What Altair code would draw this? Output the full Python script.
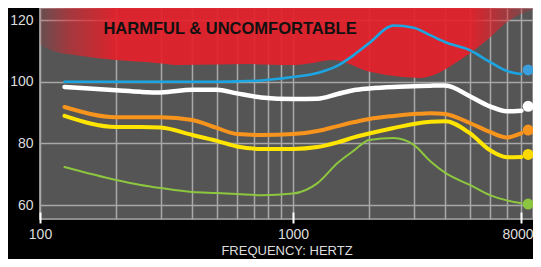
import altair as alt
import pandas as pd

# ---------------- data ----------------
FREQS = [125, 200, 250, 300, 400, 500, 600, 750, 1000, 1250, 1500, 1750,
         2000, 2500, 3000, 3500, 4000, 5000, 6000, 7000, 8000]

BLUE = [100, 100, 100, 100, 100, 100, 100.1, 100.4, 101.5, 102.8, 105.2, 108.8,
        112.5, 118.2, 117.5, 115.0, 112.8, 110.2, 106.4, 103.5, 102.5]
WHITE = [98.3, 97.2, 96.7, 96.5, 97.4, 97.4, 96.2, 94.9, 94.4, 94.5, 96.0, 97.3,
         97.8, 98.3, 98.5, 98.7, 98.8, 95.3, 92.0, 90.4, 90.6]
ORANGE = [91.8, 88.5, 88.5, 88.5, 87.6, 85.0, 83.0, 82.7, 83.0, 84.0, 85.6, 86.9,
          87.9, 88.9, 89.5, 89.8, 89.5, 86.6, 83.7, 81.9, 83.3]
YELLOW = [88.9, 85.3, 85.3, 85.1, 82.7, 80.8, 79.0, 78.2, 78.2, 78.8, 80.3, 82.0,
          83.2, 85.0, 86.3, 87.0, 87.2, 83.3, 77.8, 75.5, 75.6]
GREEN = [72.3, 68.1, 66.5, 65.5, 64.2, 63.9, 63.6, 63.2, 63.7, 67.1, 73.6, 77.8,
         81.1, 81.7, 79.5, 74.1, 70.4, 66.5, 63.2, 61.5, 60.6]

SERIES = ["blue", "white", "orange", "yellow", "green"]
LINE_COLORS = ["#1ba6e3", "#ffffff", "#f7941d", "#ffe500", "#8dc63f"]
DOT_COLORS = ["#3a9fdc", "#ffffff", "#f7941d", "#f9d900", "#8cc540"]
LINE_WIDTHS = [2.6, 4.5, 4, 4, 2]

DOT_FREQ = 8500
DOT_VALUES = [103.8, 92.0, 84.3, 76.4, 60.3]

HARM_FREQS = [100, 116, 139, 200, 287, 358, 675, 973, 1200, 1440, 2014, 2650,
              3177, 3811, 4570, 5849, 7211, 9550]
HARM_LOWER = [111.9, 109.6, 108.6, 107.0, 106.1, 105.4, 105.7, 105.4, 106.1, 107.0,
              103.2, 101.6, 101.2, 103.1, 107.0, 113.5, 120.0, 123.9]

X_GRID = [100, 200, 300, 400, 500, 600, 700, 800, 900, 1000, 2000, 3000, 4000,
          5000, 6000, 7000, 8000]
X_LABELS = [100, 1000, 8000]
Y_GRID = [60, 65, 70, 75, 80, 85, 90, 95, 100, 105, 110, 115, 120]

X_DOMAIN = [100, 8885]
Y_DOMAIN = [55.46, 123.9]

ANNOT_TEXT = "HARMFUL & UNCOMFORTABLE"
ANNOT_FREQ = 564
ANNOT_VALUE = 117.0

# ---------------- tables ----------------
values_by_series = [BLUE, WHITE, ORANGE, YELLOW, GREEN]
lines_df = pd.DataFrame([
    {"series": s, "freq": f, "value": v, "ord": i}
    for s, vals in zip(SERIES, values_by_series)
    for i, (f, v) in enumerate(zip(FREQS, vals))
])
dots_df = pd.DataFrame({"series": SERIES, "freq": [DOT_FREQ] * 5, "value": DOT_VALUES})
harm_df = pd.DataFrame({"freq": HARM_FREQS, "lower": HARM_LOWER,
                        "top": [Y_DOMAIN[1]] * len(HARM_FREQS)})
annot_df = pd.DataFrame({"freq": [ANNOT_FREQ], "value": [ANNOT_VALUE], "text": [ANNOT_TEXT]})

FONT = "Liberation Sans"
x_scale = alt.Scale(type="log", domain=X_DOMAIN, nice=False)
y_scale = alt.Scale(domain=Y_DOMAIN, nice=False, zero=False)

label_test = " || ".join(f"datum.value == {v}" for v in X_LABELS)
x_axis = alt.Axis(
    values=X_GRID,
    labelExpr=f"({label_test}) ? format(datum.value, 'd') : ''",
    labelColor="#dddddd", labelFont=FONT, labelFontSize=14, labelPadding=4,
    labelOffset={"condition": {"test": f"datum.value == {X_LABELS[-1]}", "value": -4}, "value": 0},
    labelOverlap=False, labelFlush=False,
    ticks=True, tickSize=11, tickWidth=2,
    tickColor={"condition": {"test": label_test, "value": "#ffffff"}, "value": "rgba(0,0,0,0)"},
    offset=-7, domain=False,
    grid=True, gridColor="#a8a8a8", gridWidth=1.5,
    title="FREQUENCY: HERTZ", titleColor="#dddddd", titleFont=FONT,
    titleFontSize=13, titleFontWeight="normal", titlePadding=3,
)
y_axis = alt.Axis(
    values=Y_GRID,
    labelExpr="datum.value % 10 == 0 ? format(datum.value, 'd') : ''",
    labelColor="#dddddd", labelFont=FONT, labelFontSize=14, labelPadding=7,
    ticks=False, domain=False, labelOverlap=False,
    grid=True, gridColor="#a8a8a8", gridWidth=1.5, title=None,
)

red = "230,32,42"
gradient = alt.Gradient(
    gradient="linear", x1=0, x2=1, y1=0, y2=0,
    stops=[
        alt.GradientStop(color=f"rgba({red},0.12)", offset=0),
        alt.GradientStop(color=f"rgba({red},0.55)", offset=0.06),
        alt.GradientStop(color=f"rgba({red},0.92)", offset=0.15),
        alt.GradientStop(color=f"rgba({red},0.92)", offset=0.86),
        alt.GradientStop(color=f"rgba({red},0.5)", offset=0.93),
        alt.GradientStop(color=f"rgba({red},0.08)", offset=1),
    ],
)

area = alt.Chart(harm_df).mark_area(color=gradient, interpolate="monotone", clip=True).encode(
    x=alt.X("freq:Q", scale=x_scale, axis=x_axis),
    y=alt.Y("lower:Q", scale=y_scale, axis=y_axis),
    y2="top:Q",
)

annot = alt.Chart(annot_df).mark_text(
    font=FONT, fontSize=16.5, fontWeight="bold", color="#111111",
    align="center", baseline="middle"
).encode(x=alt.X("freq:Q", scale=x_scale), y=alt.Y("value:Q", scale=y_scale), text="text:N")

lines = alt.Chart(lines_df).mark_line(interpolate="monotone", strokeCap="round", clip=True).encode(
    x=alt.X("freq:Q", scale=x_scale),
    y=alt.Y("value:Q", scale=y_scale),
    color=alt.Color("series:N", scale=alt.Scale(domain=SERIES, range=LINE_COLORS), legend=None),
    strokeWidth=alt.StrokeWidth("series:N",
                                scale=alt.Scale(type="ordinal", domain=SERIES, range=LINE_WIDTHS),
                                legend=None),
    order="ord:Q",
)

dots = alt.Chart(dots_df).mark_circle(size=120, opacity=1).encode(
    x=alt.X("freq:Q", scale=x_scale),
    y=alt.Y("value:Q", scale=y_scale),
    color=alt.Color("series:N", scale=alt.Scale(domain=SERIES, range=DOT_COLORS), legend=None),
)

chart = alt.layer(area, annot, lines, dots).resolve_scale(color="independent").properties(
    width=493, height=211,
    autosize=alt.AutoSizeParams(type="none"),
    padding={"left": 32, "top": 0, "right": 0, "bottom": 40},
    background="#000000",
).configure_view(fill="#555555", stroke="#8c8c8c", strokeWidth=2)

chart.save("out.html", embed_options={"renderer": "svg", "actions": False})
